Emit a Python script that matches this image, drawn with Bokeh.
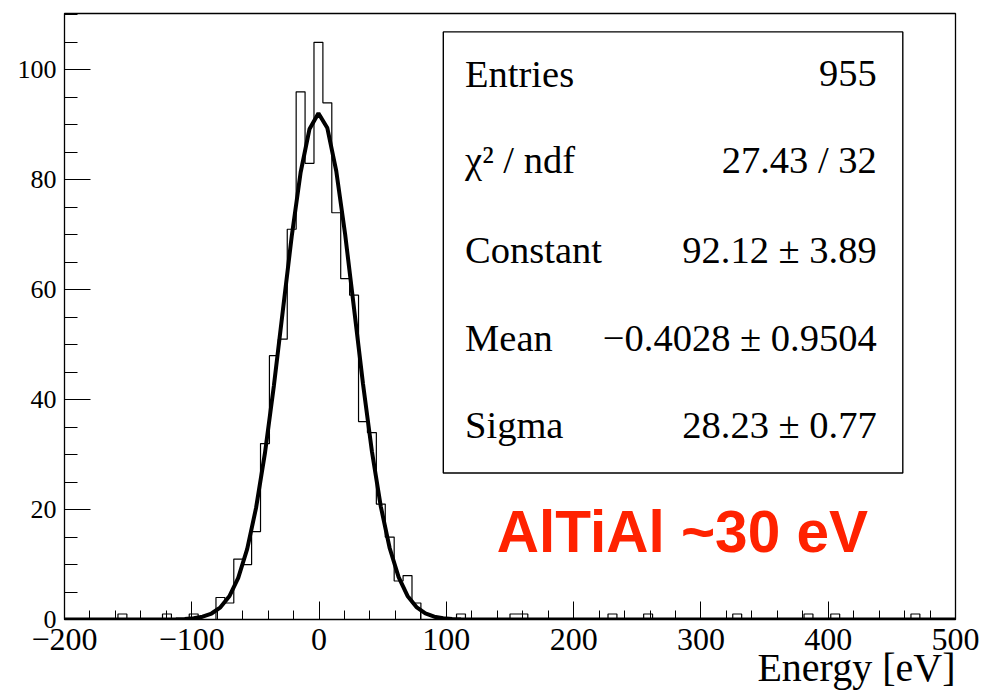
import numpy as np
from bokeh.plotting import figure
from bokeh.models import SingleIntervalTicker, CustomJSTickFormatter, Range1d, Title
from bokeh.core.properties import value
from bokeh.embed import file_html
from bokeh.resources import INLINE

# ---------------- data ----------------
bin_lo = -200.0
bin_width = 7.0
counts = [
    0, 0, 0, 0, 0, 0, 1, 0, 0, 0,
    0, 1, 0, 0, 1, 0, 0, 4, 3, 11,
    10, 16, 32, 48, 51, 71, 96, 83, 105, 94,
    74, 62, 59, 36, 34, 21, 15, 7, 8, 3,
    0, 0, 0, 0, 1, 0, 0, 0, 0, 0,
    1, 1, 0, 0, 0, 0, 0, 0, 0, 0,
    0, 1, 0, 0, 0, 1, 0, 0, 0, 0,
    0, 0, 0, 0, 0, 1, 0, 0, 0, 0,
    0, 0, 0, 1, 0, 0, 1, 0, 0, 0,
    0, 0, 0, 0, 0, 1, 0, 0, 0, 0,
]

fit_constant = 92.12
fit_mean = -0.4028
fit_sigma = 28.23

stats_names = ["Entries", "\u03c7\u00b2 / ndf", "Constant", "Mean", "Sigma"]
stats_values = ["955", "27.43 / 32", "92.12 \u00b1 3.89",
                "\u22120.4028 \u00b1 0.9504", "28.23 \u00b1 0.77"]

x_title = "Energy [eV]"
note_text = "AlTiAl ~30 eV"

# ---------------- figure ----------------
SERIF = "Liberation Serif"
p = figure(width=984, height=691, output_backend="svg", toolbar_location=None,
           x_range=Range1d(-200, 500), y_range=Range1d(0, 110.25),
           min_border_left=64, min_border_right=29, min_border_top=13,
           min_border_bottom=72)
p.grid.visible = False
p.background_fill_color = "white"
p.border_fill_color = "white"
p.outline_line_color = "black"
p.outline_line_width = 1.3

fmt = CustomJSTickFormatter(code="return (tick < 0 ? '\u2212' : '') + Math.abs(tick).toFixed(0);")

xa = p.xaxis[0]
xa.ticker = SingleIntervalTicker(interval=100, num_minor_ticks=5)
xa.formatter = fmt
xa.major_tick_in = 18
xa.major_tick_out = 0
xa.minor_tick_in = 9
xa.minor_tick_out = 0
xa.major_label_text_font = SERIF
xa.major_label_text_font_size = "32px"
xa.major_label_text_color = "black"
xa.major_label_standoff = 9
xa.axis_line_color = "black"
xa.major_tick_line_color = "black"
xa.minor_tick_line_color = "black"

ya = p.yaxis[0]
ya.ticker = SingleIntervalTicker(interval=20, num_minor_ticks=4)
ya.formatter = fmt
ya.major_tick_in = 26
ya.major_tick_out = 0
ya.minor_tick_in = 13
ya.minor_tick_out = 0
ya.major_label_text_font = SERIF
ya.major_label_text_font_size = "26px"
ya.major_label_text_color = "black"
ya.major_label_standoff = 8
ya.axis_line_color = "black"
ya.major_tick_line_color = "black"
ya.minor_tick_line_color = "black"

# x axis title, right aligned at the frame's right end
p.add_layout(Title(text=x_title, align="right", text_font=SERIF,
                   text_font_size="40px", text_font_style="normal",
                   text_color="black", standoff=-20), "below")

# histogram outline
edges = bin_lo + bin_width * np.arange(len(counts) + 1)
heights = list(counts) + [counts[-1]]
p.step(edges, heights, mode="after", line_color="black", line_width=1.2)

# gaussian fit curve from the fit parameters
xf = np.concatenate([[bin_lo], bin_lo + bin_width * (np.arange(len(counts)) + 0.5),
                     [bin_lo + bin_width * len(counts)]])
yf = fit_constant * np.exp(-0.5 * ((xf - fit_mean) / fit_sigma) ** 2)
p.line(xf, yf, line_color="black", line_width=4)

# stats box
p.quad(left=[97.6], right=[458.6], bottom=[26.66], top=[106.9],
       fill_color="white", line_color="black", line_width=1.4)
row_y = [99.3, 83.55, 67.15, 51.15, 35.35]
p.text(x=[114.7] * 5, y=row_y, text=stats_names, text_font=value(SERIF),
       text_font_size="38.5px", text_color="black", text_baseline="alphabetic",
       text_align="left")
p.text(x=[438.1] * 5, y=row_y, text=stats_values, text_font=value(SERIF),
       text_font_size="38.5px", text_color="black", text_baseline="alphabetic",
       text_align="right")

# red annotation
p.text(x=[139.6], y=[16.1], text=[note_text], text_font=value("Liberation Sans"),
       text_font_style="bold", text_font_size="58.5px", text_color="#ff2200",
       text_baseline="alphabetic", text_align="left")

open("out.html", "w").write(file_html(p, INLINE))
